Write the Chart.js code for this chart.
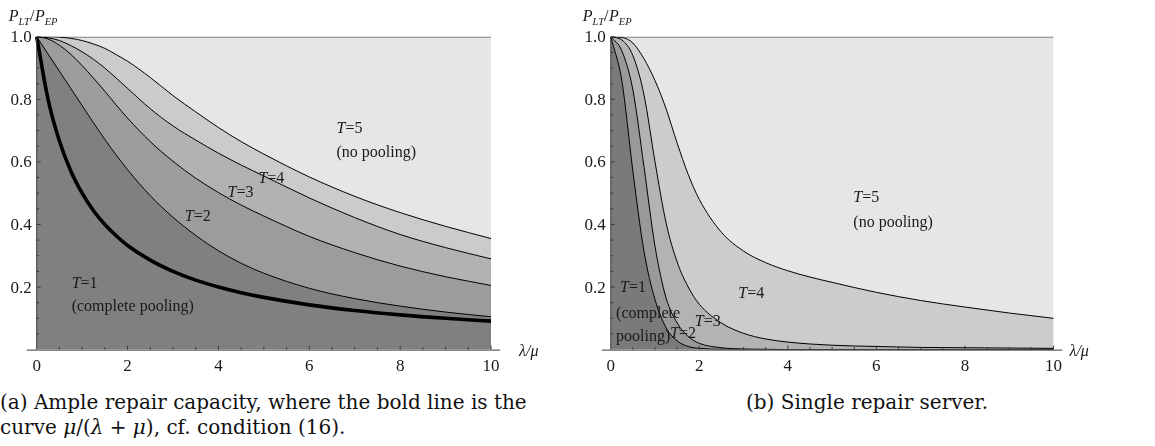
<!DOCTYPE html>
<html>
<head>
<meta charset="utf-8">
<script src="https://cdn.jsdelivr.net/npm/chart.js@4.4.1/dist/chart.umd.min.js"></script>
<style>
  html, body { margin: 0; padding: 0; background: #fff; }
  body { width: 1155px; height: 446px; position: relative; overflow: hidden; }
  canvas { position: absolute; top: 0; }
  #ample { left: 0; }
  #single { left: 575px; }
  .cap { position: absolute; font-family: "DejaVu Serif", serif; font-size: 20px; color: #111; line-height: 25px; white-space: nowrap; }
</style>
</head>
<body>
<canvas id="ample" width="575" height="385"></canvas>
<canvas id="single" width="580" height="385"></canvas>
<div class="cap" style="left:0; top:390px;">(a) Ample repair capacity, where the bold line is the<br>curve <i>μ</i>/(<i>λ</i> + <i>μ</i>), cf. condition (16).</div>
<div class="cap" style="left:746px; top:390px;">(b) Single repair server.</div>
<script>
const lamMu = [0, 0.25, 0.5, 0.75, 1, 1.25, 1.5, 1.75, 2, 2.5, 3, 3.5, 4, 4.5, 5, 6, 7, 8, 9, 10];
const xTickLabels = [0, 2, 4, 6, 8, 10];
const yTickLabels = [0.2, 0.4, 0.6, 0.8, 1.0];

// (a) ample repair capacity
const boldCurve = [1, 0.8, 0.667, 0.571, 0.5, 0.444, 0.4, 0.364, 0.333, 0.286, 0.25, 0.222, 0.2, 0.182, 0.167, 0.143, 0.125, 0.111, 0.1, 0.091];
const ampleT1 = [1, 0.945, 0.89, 0.835, 0.78, 0.725, 0.672, 0.622, 0.575, 0.492, 0.423, 0.365, 0.316, 0.276, 0.244, 0.196, 0.163, 0.139, 0.12, 0.105];
const ampleT2 = [1, 0.993, 0.973, 0.944, 0.908, 0.868, 0.826, 0.782, 0.74, 0.665, 0.602, 0.548, 0.502, 0.462, 0.427, 0.362, 0.31, 0.267, 0.233, 0.205];
const ampleT3 = [1, 0.997, 0.988, 0.972, 0.952, 0.928, 0.9, 0.868, 0.835, 0.77, 0.715, 0.67, 0.628, 0.59, 0.555, 0.485, 0.422, 0.368, 0.326, 0.29];
const ampleT4 = [1, 1, 0.999, 0.995, 0.988, 0.977, 0.963, 0.943, 0.922, 0.87, 0.812, 0.76, 0.71, 0.665, 0.625, 0.552, 0.49, 0.438, 0.394, 0.355];
const noPooling = [1, 1, 1, 1, 1, 1, 1, 1, 1, 1, 1, 1, 1, 1, 1, 1, 1, 1, 1, 1];

// (b) single repair server
const singleT1 = [1, 0.86, 0.57, 0.315, 0.16, 0.07, 0.028, 0.01, 0.004, 0.001, 0, 0, 0, 0, 0, 0, 0, 0, 0, 0];
const singleT2 = [1, 0.955, 0.83, 0.585, 0.33, 0.165, 0.085, 0.042, 0.02, 0.006, 0.002, 0.001, 0, 0, 0, 0, 0, 0, 0, 0];
const singleT3 = [1, 0.99, 0.94, 0.815, 0.6, 0.405, 0.28, 0.2, 0.145, 0.085, 0.052, 0.034, 0.024, 0.018, 0.014, 0.01, 0.007, 0.006, 0.005, 0.004];
const singleT4 = [1, 0.998, 0.98, 0.93, 0.86, 0.77, 0.66, 0.56, 0.48, 0.375, 0.315, 0.278, 0.252, 0.232, 0.215, 0.183, 0.157, 0.136, 0.117, 0.1];

const SERIF = '"Liberation Serif", "Times New Roman", serif';

function pts(ys) {
  return lamMu.map((x, i) => ({ x: x, y: ys[i] }));
}

function curve(ys, fillColor, width, color) {
  return {
    data: pts(ys),
    borderColor: color || '#000',
    borderWidth: width || 1,
    backgroundColor: fillColor || 'transparent',
    fill: fillColor ? 'origin' : false,
    pointRadius: 0,
    cubicInterpolationMode: 'monotone'
  };
}

// draws "T" in italics followed by the rest upright
function drawLabel(ctx, lab, px, py) {
  let x = px;
  if (lab.t) {
    ctx.font = 'italic 16px ' + SERIF;
    ctx.fillText(lab.t, x, py);
    x += ctx.measureText(lab.t).width;
  }
  ctx.font = '16px ' + SERIF;
  ctx.fillText(lab.s, x, py);
}

function axesPlugin(cfg) {
  return {
    id: 'axes',
    afterDatasetsDraw(chart) {
      const ctx = chart.ctx;
      const xs = chart.scales.x, ys = chart.scales.y;
      const area = chart.chartArea;
      const x0 = xs.getPixelForValue(0);
      const y0 = ys.getPixelForValue(0);
      const y1 = ys.getPixelForValue(1);
      ctx.save();
      ctx.strokeStyle = '#3a3a3a';
      ctx.lineWidth = 1;
      ctx.beginPath();
      ctx.moveTo(area.left, y0 + 0.5);
      ctx.lineTo(area.right, y0 + 0.5);
      ctx.moveTo(x0, y0);
      ctx.lineTo(x0, y1);
      for (let k = 1; k <= 20; k++) {
        const px = xs.getPixelForValue(k * 0.5);
        const len = k % 4 === 0 ? 4 : 2.5;
        ctx.moveTo(px, y0);
        ctx.lineTo(px, y0 - len);
      }
      for (let k = 1; k <= 20; k++) {
        const py = ys.getPixelForValue(k * 0.05);
        const len = k % 4 === 0 ? 4 : 2.5;
        ctx.moveTo(x0, py);
        ctx.lineTo(x0 + len, py);
      }
      ctx.stroke();

      ctx.fillStyle = '#1a1a1a';
      ctx.textBaseline = 'middle';
      ctx.font = '17px ' + SERIF;
      ctx.textAlign = 'center';
      xTickLabels.forEach(v => ctx.fillText(String(v), xs.getPixelForValue(v), y0 + 17));
      ctx.textAlign = 'right';
      yTickLabels.forEach(v => ctx.fillText(v.toFixed(1), x0 - 5, ys.getPixelForValue(v) + 1));

      // axis titles
      ctx.textAlign = 'left';
      ctx.textBaseline = 'alphabetic';
      let tx = x0 - 28;
      const parts = [['P', 16, 0], ['LT', 10.5, 4], ['/', 16, 0], ['P', 16, 0], ['EP', 10.5, 4]];
      parts.forEach(p => {
        ctx.font = (p[0] === '/' ? '' : 'italic ') + p[1] + 'px ' + SERIF;
        ctx.fillText(p[0], tx, 21 + p[2]);
        tx += ctx.measureText(p[0]).width + (p[0] === '/' ? 0.5 : 0);
      });
      ctx.font = 'italic 16px ' + SERIF;
      ctx.textBaseline = 'middle';
      ctx.fillText('λ/μ', xs.getPixelForValue(10) + cfg.lamOffset, y0 + 2);

      cfg.labels.forEach(lab => drawLabel(ctx, lab, xs.getPixelForValue(lab.x), ys.getPixelForValue(lab.y)));
      ctx.restore();
    }
  };
}

function makeChart(id, datasets, xMin, xMax, padding, cfg) {
  return new Chart(document.getElementById(id), {
    type: 'line',
    data: { datasets: datasets },
    options: {
      responsive: false,
      animation: false,
      layout: { padding: padding },
      plugins: { legend: { display: false }, tooltip: { enabled: false } },
      scales: {
        x: { type: 'linear', min: xMin, max: xMax, display: false },
        y: { type: 'linear', min: 0, max: 1, display: false }
      }
    },
    plugins: [axesPlugin(cfg)]
  });
}

makeChart('ample', [
  curve(boldCurve, null, 3.6),
  curve(ampleT1, '#808080'),
  curve(ampleT2, '#9c9c9c'),
  curve(ampleT3, '#b2b2b2'),
  curve(ampleT4, '#cbcbcb'),
  curve(noPooling, '#e6e6e6', 1.2, '#555')
], -0.22, 10.2, { left: 26.7, right: 74.9, top: 36.8, bottom: 35.4 }, {
  lamOffset: 28,
  labels: [
    { t: 'T', s: '=5', x: 6.6, y: 0.707 },
    { s: '(no pooling)', x: 6.6, y: 0.63 },
    { t: 'T', s: '=4', x: 4.88, y: 0.547 },
    { t: 'T', s: '=3', x: 4.2, y: 0.501 },
    { t: 'T', s: '=2', x: 3.26, y: 0.424 },
    { t: 'T', s: '=1', x: 0.77, y: 0.209 },
    { s: '(complete pooling)', x: 0.77, y: 0.136 }
  ]
});

makeChart('single', [
  curve(singleT1, '#7a7a7a'),
  curve(singleT2, '#999999'),
  curve(singleT3, '#b3b3b3'),
  curve(singleT4, '#cccccc'),
  curve(noPooling, '#e6e6e6', 1.2, '#555')
], -0.2, 10.2, { left: 26.9, right: 92.7, top: 36.8, bottom: 35.4 }, {
  lamOffset: 16,
  labels: [
    { t: 'T', s: '=5', x: 5.48, y: 0.486 },
    { s: '(no pooling)', x: 5.48, y: 0.405 },
    { t: 'T', s: '=4', x: 2.88, y: 0.179 },
    { t: 'T', s: '=3', x: 1.9, y: 0.088 },
    { t: 'T', s: '=2', x: 1.34, y: 0.051 },
    { t: 'T', s: '=1', x: 0.21, y: 0.198 },
    { s: '(complete', x: 0.12, y: 0.115 },
    { s: 'pooling)', x: 0.12, y: 0.04 }
  ]
});
</script>
</body>
</html>
